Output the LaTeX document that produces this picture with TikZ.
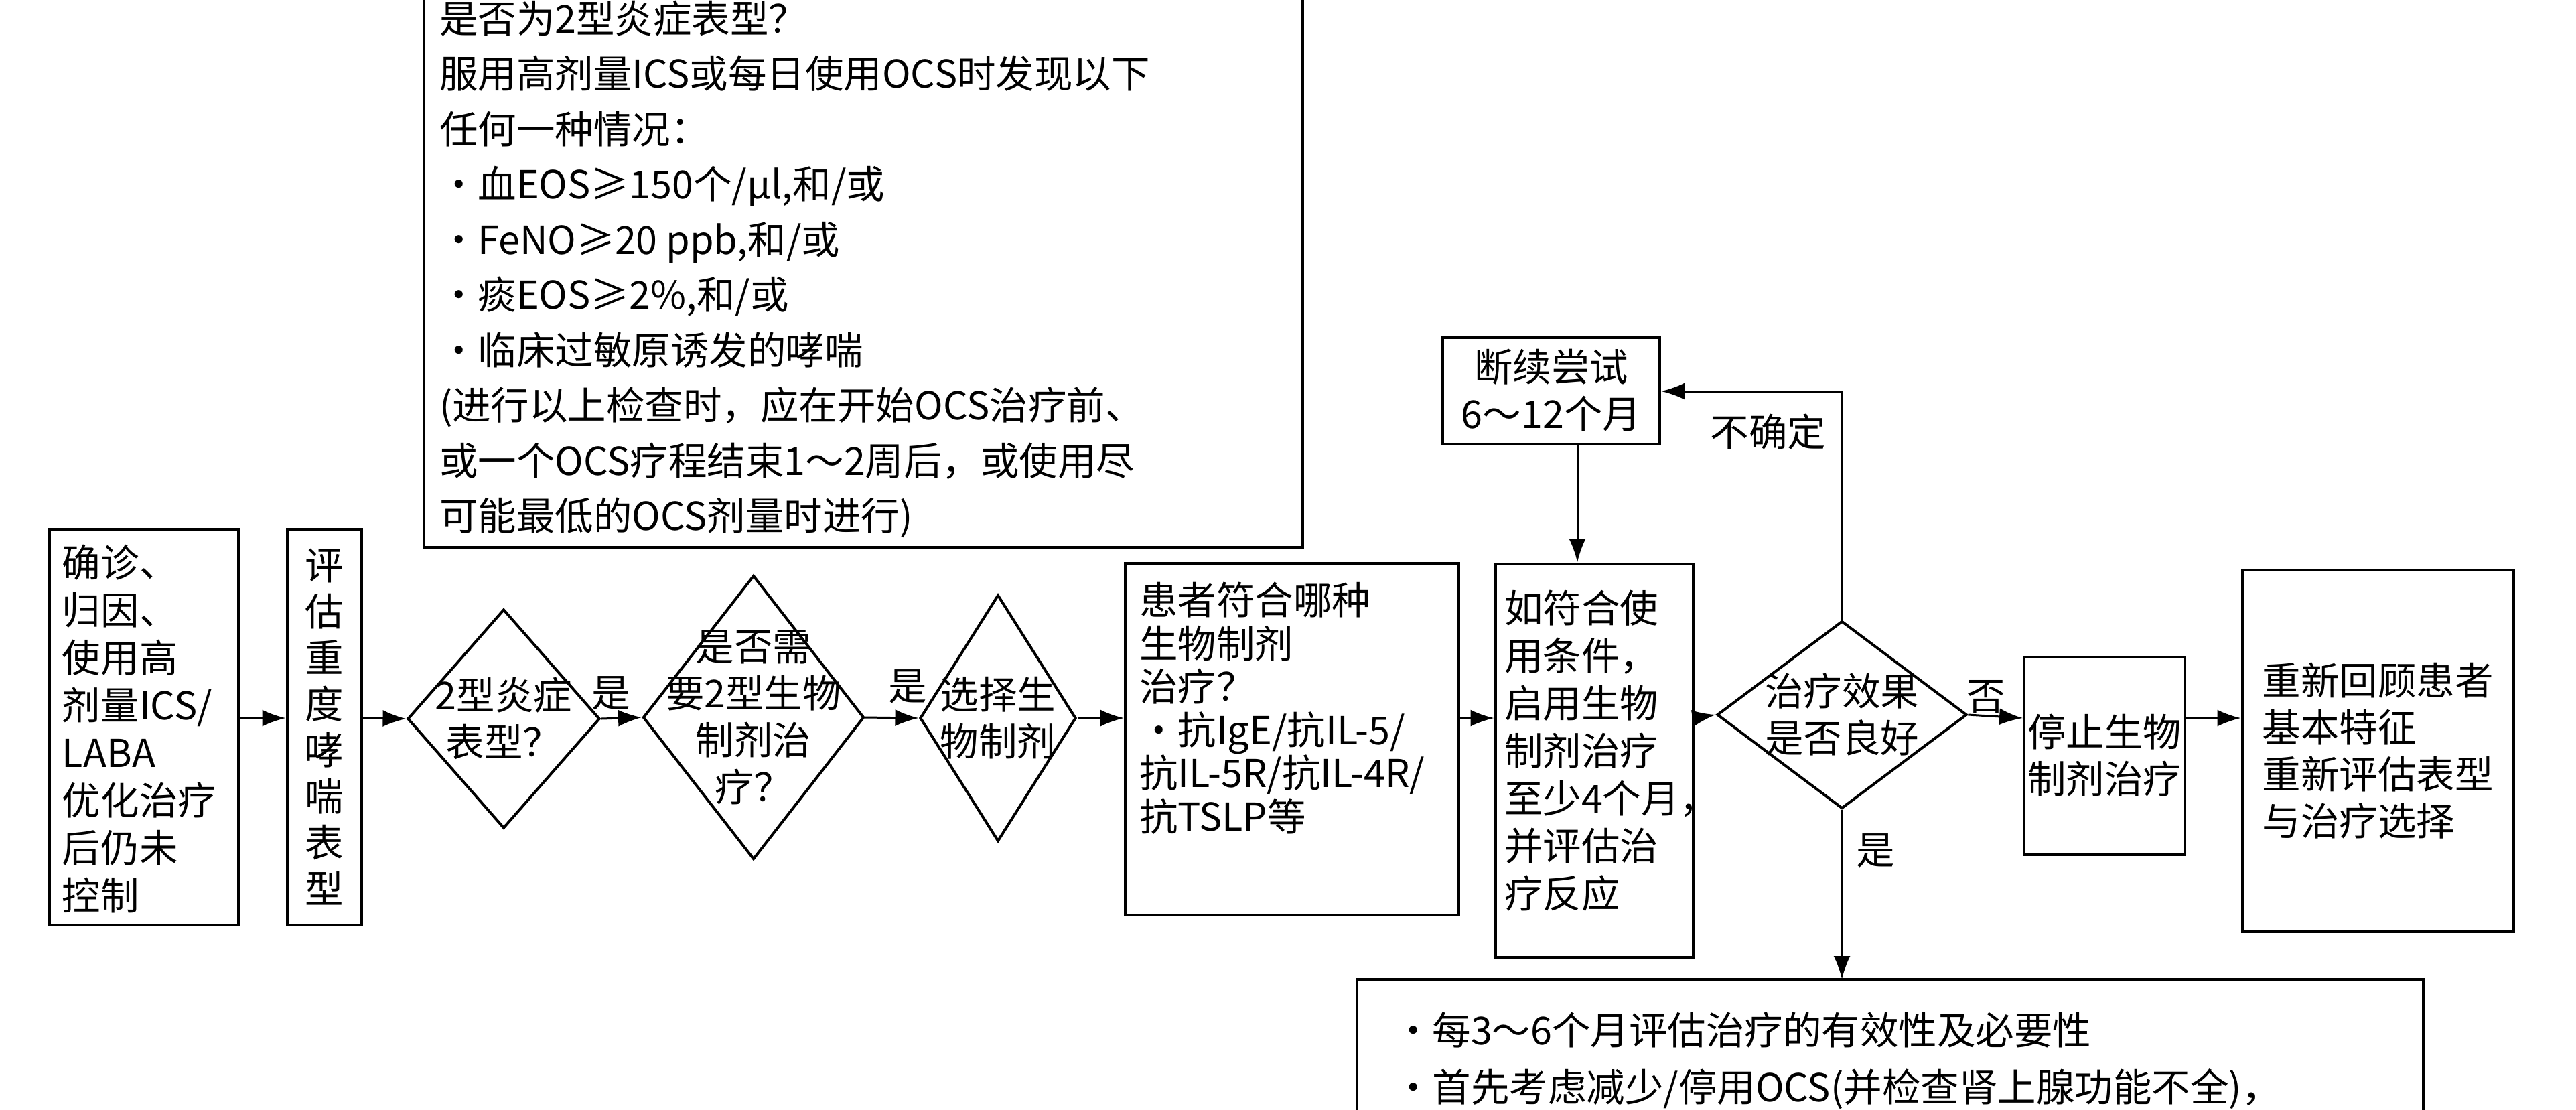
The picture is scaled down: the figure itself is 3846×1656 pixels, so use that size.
\documentclass[tikz,border=0pt]{standalone}
\usepackage{fontspec}
\setmainfont{Noto Sans CJK SC}
\usetikzlibrary{shapes.geometric,arrows.meta}
\tikzset{
  box/.style={draw,line width=0.8pt,inner sep=0pt},
  dia/.style={draw,line width=0.8pt,shape=diamond,inner sep=0pt},
  arr/.style={line width=0.6pt,-{Latex[length=7pt,width=5pt]}},
  txt/.style={inner sep=0pt,align=left},
}
\begin{document}
\begin{tikzpicture}[x=0.2pt,y=0.2pt,yscale=-1,font=\fontsize{11.5}{14}\selectfont]
\useasboundingbox (0,0) rectangle (3846,1656);
% upper note box
\draw [line width=0.8pt] (633,-40) -- (633,817) -- (1945,817) -- (1945,-40);
\node (cond) [txt,anchor=north west,font=\fontsize{11.5}{16.5}\selectfont] at (655,0) {是否为2型炎症表型？\\
服用高剂量ICS或每日使用OCS时发现以下\\
任何一种情况：\\
·血EOS≥150个/μl,和/或\\
·FeNO≥20 ppb,和/或\\
·痰EOS≥2\%,和/或\\
·临床过敏原诱发的哮喘\\
(进行以上检查时，应在开始OCS治疗前、\\
或一个OCS疗程结束1～2周后，或使用尽\\
可能最低的OCS剂量时进行)};
% main row
\node (diag) [box,minimum width=56.4pt,minimum height=118.2pt] at (215,1085) {};
\node [txt,anchor=north west,font=\fontsize{11.5}{14.2}\selectfont] at (92,812) {确诊、\\归因、\\使用高\\剂量ICS/\\LABA\\优化治疗\\后仍未\\控制};
\node (sev) [box,minimum width=22.2pt,minimum height=118.2pt] at (484,1085) {};
\node [txt,align=center,font=\fontsize{11.5}{13.8}\selectfont] at (sev) {评\\估\\重\\度\\哮\\喘\\表\\型};
\node (t2) [dia,minimum width=57.4pt,minimum height=65.4pt] at (752,1073) {};
\node [txt,align=center] at (t2) {2型炎症\\表型？};
\node (need) [dia,minimum width=66pt,minimum height=84.8pt] at (1125,1071) {};
\node [txt,align=center] at (need) {是否需\\要2型生物\\制剂治\\疗？};
\node (sel) [dia,minimum width=46.6pt,minimum height=73.6pt] at (1490,1072) {};
\node [txt,align=center] at (sel) {选择生\\物制剂};
\node (which) [box,minimum width=99.6pt,minimum height=105pt] at (1929,1103) {};
\node [txt,anchor=north west,font=\fontsize{11.5}{12.9}\selectfont] at (1700,868) {患者符合哪种\\生物制剂\\治疗？\\ ·抗IgE/抗IL-5/\\抗IL-5R/抗IL-4R/\\抗TSLP等};
\node (start) [box,minimum width=59pt,minimum height=117.4pt] at (2380,1135) {};
\node [txt,anchor=north west,font=\fontsize{11.5}{14.2}\selectfont] at (2245,880) {如符合使\\用条件，\\启用生物\\制剂治疗\\至少4个月，\\并评估治\\疗反应};
\node (trial) [box,minimum width=64.8pt,minimum height=31.8pt] at (2316,583) {};
\node [txt,align=center] at (trial) {断续尝试\\6～12个月};
\node (eff) [dia,minimum width=74.6pt,minimum height=56pt] at (2750,1067) {};
\node [txt,align=center] at (eff) {治疗效果\\是否良好};
\node (stop) [box,minimum width=48pt,minimum height=59pt] at (3142,1128) {};
\node [txt] at (stop) {停止生物\\制剂治疗};
\node (review) [box,minimum width=81pt,minimum height=108pt] at (3550,1121) {};
\node [txt] at (review) {重新回顾患者\\基本特征\\重新评估表型\\与治疗选择};
% lower note box
\draw [line width=0.8pt] (2026,1700) -- (2026,1462) coordinate (note) -- (3618,1462) -- (3618,1700);
\node [txt,anchor=north west,font=\fontsize{11.5}{17}\selectfont] at (2080,1510) {·每3～6个月评估治疗的有效性及必要性\\
·首先考虑减少/停用OCS(并检查肾上腺功能不全)，};
% connectors
\draw [arr] (diag.east |- 0,1072) -- (sev.west |- 0,1072);
\draw [arr] (sev.east |- 0,1072) -- (t2.west);
\draw [arr] (t2.east) -- (need.west);
\draw [arr] (need.east) -- (sel.west);
\draw [arr] (sel.east) -- (which.west |- 0,1072);
\draw [arr] (which.east |- 0,1072) -- (start.west |- 0,1072);
\draw [arr] (start.east |- 0,1072) -- (eff.west);
\draw [arr] (eff.east) -- (stop.west |- 0,1072);
\draw [arr] (stop.east |- 0,1072) -- (review.west |- 0,1072);
\draw [arr] (eff.north) |- (trial.east |- 0,584);
\draw [arr] ([xshift=7.8pt]trial.south) -- ([xshift=7.8pt]trial.south |- start.north);
\draw [arr] (eff.south) -- (eff.south |- note);
% labels
\node [txt] at (912,1035) {是};
\node [txt] at (1355,1025) {是};
\node [txt] at (2965,1040) {否};
\node [txt] at (2640,645) {不确定};
\node [txt] at (2800,1270) {是};
\end{tikzpicture}
\end{document}
